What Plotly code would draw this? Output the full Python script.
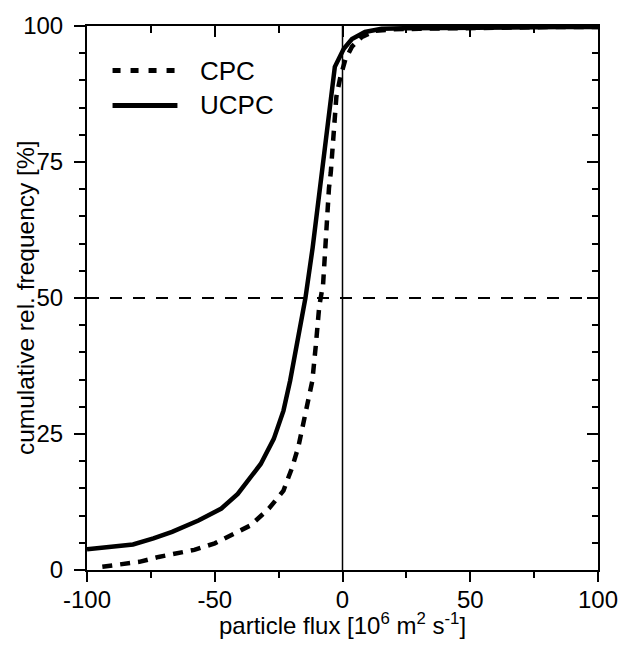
import plotly.graph_objects as go

# --- data ---
cpc_x = [-94, -86, -79.5, -72, -65, -58, -50, -43.6, -36, -28.8, -23.1, -19.9, -17.3,
         -15.4, -13.5, -11.8, -10.4, -9.1, -7.6, -6.5, -5.3, -4.6, -3.3, -2.4, -0.8,
         1.1, 3.7, 7.6, 12.7, 20, 30, 40, 50, 60, 70, 80, 90, 100]
cpc_y = [0.6, 1.2, 1.5, 2.4, 3.0, 3.7, 4.9, 6.4, 8.2, 11.3, 14.6, 18.6, 22.6,
         26.8, 31.1, 34.8, 41.5, 48.5, 52.5, 62.3, 70.2, 73.0, 80.3, 87.0, 90.7,
         93.8, 96.2, 98.0, 99.1, 99.4, 99.5, 99.6, 99.7, 99.7, 99.7, 99.8, 99.8, 99.8]

ucpc_x = [-100, -92, -82, -74, -66.7, -56.4, -47.4, -41, -32, -26.9, -23.1, -20.5,
          -16.8, -14.5, -11.7, -8.5, -3.0, 0.5, 3.7, 8.8, 15.3, 25, 40, 55, 70, 85, 100]
ucpc_y = [3.8, 4.2, 4.7, 5.8, 7.0, 9.1, 11.3, 14.0, 19.5, 24.1, 29.3, 34.8,
          44.0, 50.0, 59.2, 71.4, 92.5, 95.8, 97.6, 98.9, 99.5, 99.6, 99.7, 99.7, 99.8, 99.8, 99.8]

series_names = ["CPC", "UCPC"]
x_major_ticks = [-100, -50, 0, 50, 100]
x_tick_text = ["-100", "-50", "0", "50", "100"]
y_major_ticks = [0, 25, 50, 75, 100]
y_tick_text = ["0", "25", "50", "75", "100"]
x_title = "particle flux [10<sup>6</sup> m<sup>2</sup> s<sup>-1</sup>]"
y_title = "cumulative rel. frequency [%]"

FONT = "Arial, Liberation Sans, sans-serif"
TICK_SIZE = 24

fig = go.Figure()
fig.add_trace(go.Scatter(x=cpc_x, y=cpc_y, mode="lines", name=series_names[0],
                         line=dict(color="black", width=4.5, dash="10px,8px")))
fig.add_trace(go.Scatter(x=ucpc_x, y=ucpc_y, mode="lines", name=series_names[1],
                         line=dict(color="black", width=4.5)))
# empty trace to activate mirrored (top/right) axes
fig.add_trace(go.Scatter(x=[], y=[], xaxis="x2", yaxis="y2", showlegend=False))

axis_common = dict(showline=True, linewidth=2, linecolor="black", showgrid=False,
                   zeroline=False, tickcolor="black", tickwidth=2)

fig.update_layout(
    width=630, height=648,
    margin=dict(l=87, r=23, t=24, b=78),
    plot_bgcolor="white", paper_bgcolor="white",
    showlegend=False,
    font=dict(family=FONT, size=TICK_SIZE, color="black"),
    xaxis=dict(range=[-100, 100], tickvals=x_major_ticks, ticktext=x_tick_text,
               ticks="outside", ticklen=10, ticklabelstandoff=-3, ticklabeloverflow="allow",
               minor=dict(dtick=25, ticks="outside", ticklen=6, tickcolor="black", tickwidth=2),
               tickfont=dict(size=TICK_SIZE), **axis_common),
    yaxis=dict(range=[0, 100], tickvals=y_major_ticks, ticktext=y_tick_text,
               ticks="outside", ticklen=11, ticklabelstandoff=6,
               minor=dict(dtick=5, ticks="outside", ticklen=6, tickcolor="black", tickwidth=2),
               tickfont=dict(size=TICK_SIZE), **axis_common),
    xaxis2=dict(range=[-100, 100], overlaying="x", side="top", anchor="y2",
                tickvals=x_major_ticks, ticks="inside", ticklen=11, showticklabels=False,
                minor=dict(dtick=25, ticks="inside", ticklen=7, tickcolor="black", tickwidth=2),
                **axis_common),
    yaxis2=dict(range=[0, 100], overlaying="y", side="right", anchor="x2",
                tickvals=y_major_ticks, ticks="inside", ticklen=11, showticklabels=False,
                minor=dict(dtick=5, ticks="inside", ticklen=6, tickcolor="black", tickwidth=2),
                **axis_common),
)

# axis titles as annotations (precise placement)
fig.add_annotation(xref="paper", yref="paper", x=0.5, y=-0.1283, text=x_title,
                   showarrow=False, xanchor="center", yanchor="bottom", borderpad=0,
                   font=dict(size=24, family=FONT))
fig.add_annotation(xref="paper", yref="paper", x=-0.1212, y=0.5, text=y_title,
                   showarrow=False, xanchor="center", yanchor="middle", textangle=-90,
                   font=dict(size=24.5, family=FONT))

# reference lines
fig.add_shape(type="line", xref="x", yref="paper", x0=0, x1=0, y0=0, y1=1,
              line=dict(color="black", width=1.5))
fig.add_shape(type="line", xref="paper", yref="y", x0=0, x1=1, y0=50, y1=50,
              line=dict(color="black", width=2, dash="12px,11px"))

# manual legend
leg_y = [0.918, 0.854]
leg_dash = ["8px,10px", "solid"]
for name, yy, dsh in zip(series_names, leg_y, leg_dash):
    fig.add_shape(type="line", xref="paper", yref="paper", x0=0.05, x1=0.177, y0=yy, y1=yy,
                  line=dict(color="black", width=5, dash=dsh))
    fig.add_annotation(xref="paper", yref="paper", x=0.218, y=yy, text=name, showarrow=False,
                       xanchor="left", yanchor="middle", font=dict(size=26, family=FONT))

# remove the browser's default 8px body margin so the 630x648 figure fills the window
fig.write_html("out.html", config={"displayModeBar": False},
               post_script="document.body.style.margin='0';document.body.style.overflow='hidden';")
